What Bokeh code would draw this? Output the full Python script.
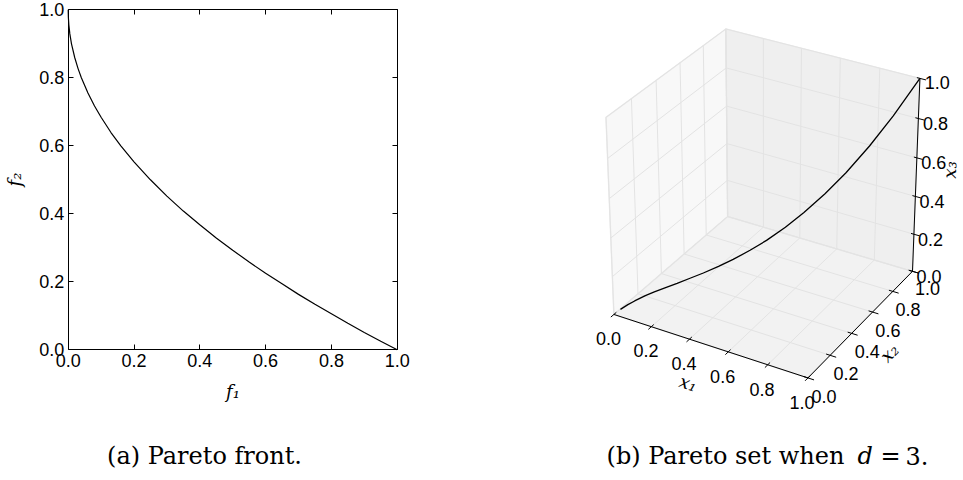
import numpy as np
from bokeh.plotting import figure
from bokeh.models import Range1d, LinearAxis, FixedTicker, PrintfTickFormatter, CustomJSTickFormatter
from bokeh.layouts import row
from bokeh.embed import file_html
from bokeh.resources import INLINE
from bokeh.core.properties import value

# ---------------- data ----------------
# (a) Pareto front
f1 = [0.0, 0.0005, 0.002, 0.005, 0.01, 0.02, 0.03, 0.04, 0.06, 0.08, 0.1, 0.13,
      0.16, 0.2, 0.25, 0.3, 0.35, 0.4, 0.45, 0.5, 0.55, 0.6, 0.65, 0.7, 0.75,
      0.8, 0.85, 0.9, 0.95, 1.0]
f2 = [1.0, 0.978, 0.955, 0.929, 0.9, 0.859, 0.827, 0.8, 0.755, 0.717, 0.684, 0.639,
      0.6, 0.553, 0.5, 0.452, 0.408, 0.368, 0.329, 0.293, 0.258, 0.225, 0.194, 0.163,
      0.134, 0.106, 0.078, 0.051, 0.025, 0.0]

# (b) Pareto set, d = 3
x1 = [0.0025, 0.01, 0.02, 0.04, 0.06, 0.09, 0.12, 0.16, 0.2, 0.25, 0.3, 0.36,
      0.42, 0.49, 0.56, 0.64, 0.72, 0.81, 0.9, 1.0]
x2 = [0.05, 0.1, 0.141, 0.2, 0.245, 0.3, 0.346, 0.4, 0.447, 0.5, 0.548, 0.6,
      0.648, 0.7, 0.748, 0.8, 0.849, 0.9, 0.949, 1.0]
x3 = [0.0, 0.0, 0.0, 0.002, 0.004, 0.008, 0.014, 0.026, 0.04, 0.063, 0.09, 0.13,
      0.176, 0.24, 0.314, 0.41, 0.518, 0.656, 0.81, 1.0]

ticks = [0.0, 0.2, 0.4, 0.6, 0.8, 1.0]
tick_labels = ["0.0", "0.2", "0.4", "0.6", "0.8", "1.0"]

caption_a = "(a) Pareto front."
caption_b = ["(b) Pareto set when", "d", "=", "3."]

TICK_FONT = "Liberation Sans"
MATH_FONT = "DejaVu Serif"
CAP_FONT = "DejaVu Serif"
CAP_SIZE = "24px"
CAP_Y = 455          # page pixel row of the captions

# ---------------- (a) 2-D chart ----------------
# frame fills the whole 480x480 figure; ranges chosen so that 0..1 spans
# page pixels x 67.7..396.7 and y 349.3..9.3
FX0, FX1, FY0, FY1, W, H = 67.7, 396.7, 349.3, 9.3, 480, 480
kx, ky = FX1 - FX0, FY0 - FY1
pl = figure(width=W, height=H,
            x_range=Range1d(-FX0 / kx, (W - FX0) / kx),
            y_range=Range1d(-(H - FY0) / ky, 1 + FY1 / ky),
            output_backend="svg", toolbar_location=None, min_border=0,
            x_axis_type=None, y_axis_type=None)
pl.grid.visible = False
pl.outline_line_color = None
pl.line(f1, f2, line_color="black", line_width=1.2)


def make_axis(loc, fixed, label, show_labels):
    ax = LinearAxis(ticker=FixedTicker(ticks=ticks), fixed_location=fixed, bounds=(0, 1),
                    major_tick_in=5, major_tick_out=0, minor_tick_line_color=None,
                    axis_line_color="black", major_tick_line_color="black")
    if show_labels:
        ax.formatter = PrintfTickFormatter(format="%.1f")
        ax.major_label_text_font = TICK_FONT
        ax.major_label_text_font_size = "18px"
        ax.major_label_text_color = "black"
        ax.major_label_standoff = 4
        ax.axis_label = label
        ax.axis_label_text_font = MATH_FONT
        ax.axis_label_text_font_style = "italic"
        ax.axis_label_text_font_size = "18px"
        ax.axis_label_text_color = "black"
        ax.axis_label_standoff = 11
    else:
        ax.formatter = CustomJSTickFormatter(code="return ''")
        ax.major_label_standoff = 0
    pl.add_layout(ax, loc)


make_axis("below", 0, "f\u2081", True)
make_axis("left", 0, "f\u2082", True)
make_axis("above", 1, None, False)
make_axis("right", 1, None, False)

pl.text([(204 - FX0) / kx], [(FY0 - CAP_Y) / ky], text=[caption_a], text_align="center",
        text_baseline="middle", text_font=value(CAP_FONT), text_font_size=CAP_SIZE,
        text_color="black")

# ---------------- (b) 3-D chart (perspective projection) ----------------
ELEV, AZIM, DIST = np.radians(30), np.radians(-60), 10.0
CX, CY, SX, SY = 765.0, 197.0, 224.0, 225.0
r_vec = np.array([-np.sin(AZIM), np.cos(AZIM), 0.0])
t_vec = np.array([-np.sin(ELEV) * np.cos(AZIM), -np.sin(ELEV) * np.sin(AZIM), np.cos(ELEV)])
n_vec = np.array([np.cos(ELEV) * np.cos(AZIM), np.cos(ELEV) * np.sin(AZIM), np.sin(ELEV)])


def proj(a, b, c):
    a, b, c = (np.asarray(v, dtype=float) for v in (a, b, c))
    p = np.stack([a - 0.5, b - 0.5, c - 0.5], axis=-1)
    u, v, w = p @ r_vec, p @ t_vec, p @ n_vec
    f = DIST / (DIST - w)
    return CX + SX * u * f, CY - SY * v * f


pr = figure(width=483, height=480, x_range=Range1d(480, 963), y_range=Range1d(480, 0),
            output_backend="svg", toolbar_location=None, min_border=0,
            x_axis_type=None, y_axis_type=None)
pr.grid.visible = False
pr.outline_line_color = None

# panes: floor (z=0), wall x1=0, wall x2=1
panes = [([0, 1, 1, 0], [0, 0, 1, 1], [0, 0, 0, 0]),
         ([0, 0, 0, 0], [0, 1, 1, 0], [0, 0, 1, 1]),
         ([0, 1, 1, 0], [1, 1, 1, 1], [0, 0, 1, 1])]
pane_colors = ["#f2f2f2", "#f8f8f8", "#efefef"]
pxs, pys = [], []
for a, b, c in panes:
    sx, sy = proj(a, b, c)
    pxs.append(list(sx)); pys.append(list(sy))
pr.patches(pxs, pys, fill_color=pane_colors, line_color="#ebebeb", line_width=1.5)

# grid lines
gx, gy = [], []
for t in ticks:
    for seg in [((t, t), (0, 1), (0, 0)), ((0, 1), (t, t), (0, 0)),
                ((0, 0), (t, t), (0, 1)), ((0, 0), (0, 1), (t, t)),
                ((t, t), (1, 1), (0, 1)), ((0, 1), (1, 1), (t, t))]:
        sx, sy = proj(*seg)
        gx.append(list(sx)); gy.append(list(sy))
pr.multi_line(gx, gy, line_color="#e3e3e3", line_width=1)

# axis lines
ax_lines = [((0, 1), (0, 0), (0, 0)), ((1, 1), (0, 1), (0, 0)), ((1, 1), (1, 1), (0, 1))]
axx, axy = [], []
for seg in ax_lines:
    sx, sy = proj(*seg)
    axx.append(list(sx)); axy.append(list(sy))
pr.multi_line(axx, axy, line_color="black", line_width=1)

# tick marks
tx, ty = [], []
for t in ticks:
    for seg in [((t, t), (-0.025, 0.02), (0, 0)),
                ((0.98, 1.03), (t, t), (0, 0)),
                ((0.985, 1.03), (1, 1), (t, t))]:
        sx, sy = proj(*seg)
        tx.append(list(sx)); ty.append(list(sy))
pr.multi_line(tx, ty, line_color="black", line_width=1)

# tick labels
n = len(ticks)
lx1, ly1 = proj(ticks, [-0.05] * n, [-0.10] * n)
lx2, ly2 = proj([1.08] * n, ticks, [-0.07] * n)
lx3, ly3 = proj([1.085] * n, [1.0] * n, ticks)
for lx, ly in ((lx1, ly1), (lx2, ly2), (lx3, ly3)):
    pr.text(list(lx), list(ly), text=tick_labels, text_align="center", text_baseline="middle",
            text_font=value(TICK_FONT), text_font_size="18px", text_color="black")


def axis_angle(p0, p1):
    sx, sy = proj(*zip(p0, p1))
    ang = np.arctan2(-(sy[1] - sy[0]), sx[1] - sx[0])
    if ang > np.pi / 2:
        ang -= np.pi
    if ang < -np.pi / 2:
        ang += np.pi
    return float(ang)


lab_pos = [(0.5, -0.175, -0.095), (1.14, 0.5, -0.114), (1.165, 1.0, 0.585)]
lab_txt = ["x\u2081", "x\u2082", "x\u2083"]
lab_ang = [axis_angle((0, 0, 0), (1, 0, 0)), axis_angle((1, 0, 0), (1, 1, 0)),
           axis_angle((1, 1, 0), (1, 1, 1))]
lpx, lpy = proj(*zip(*lab_pos))
pr.text(list(lpx), list(lpy), text=lab_txt, angle=lab_ang, text_align="center",
        text_baseline="middle", text_font=value(MATH_FONT), text_font_style="italic",
        text_font_size="18px", text_color="black")

# the Pareto-set curve
cx_, cy_ = proj(x1, x2, x3)
pr.line(list(cx_), list(cy_), line_color="black", line_width=1.3)

# caption (b), in pieces so that d can be italic
pr.text([725], [CAP_Y], text=[caption_b[0]], text_align="center", text_baseline="middle",
        text_font=value(CAP_FONT), text_font_size=CAP_SIZE, text_color="black")
pr.text([857], [CAP_Y], text=[caption_b[1]], text_align="left", text_baseline="middle",
        text_font=value(CAP_FONT), text_font_style="italic", text_font_size=CAP_SIZE,
        text_color="black")
pr.text([880], [CAP_Y], text=[caption_b[2]], text_align="left", text_baseline="middle",
        text_font=value(CAP_FONT), text_font_size=CAP_SIZE, text_color="black")
pr.text([905], [CAP_Y], text=[caption_b[3]], text_align="left", text_baseline="middle",
        text_font=value(CAP_FONT), text_font_size=CAP_SIZE, text_color="black")

layout = row(pl, pr)
open("out.html", "w").write(file_html(layout, INLINE))
